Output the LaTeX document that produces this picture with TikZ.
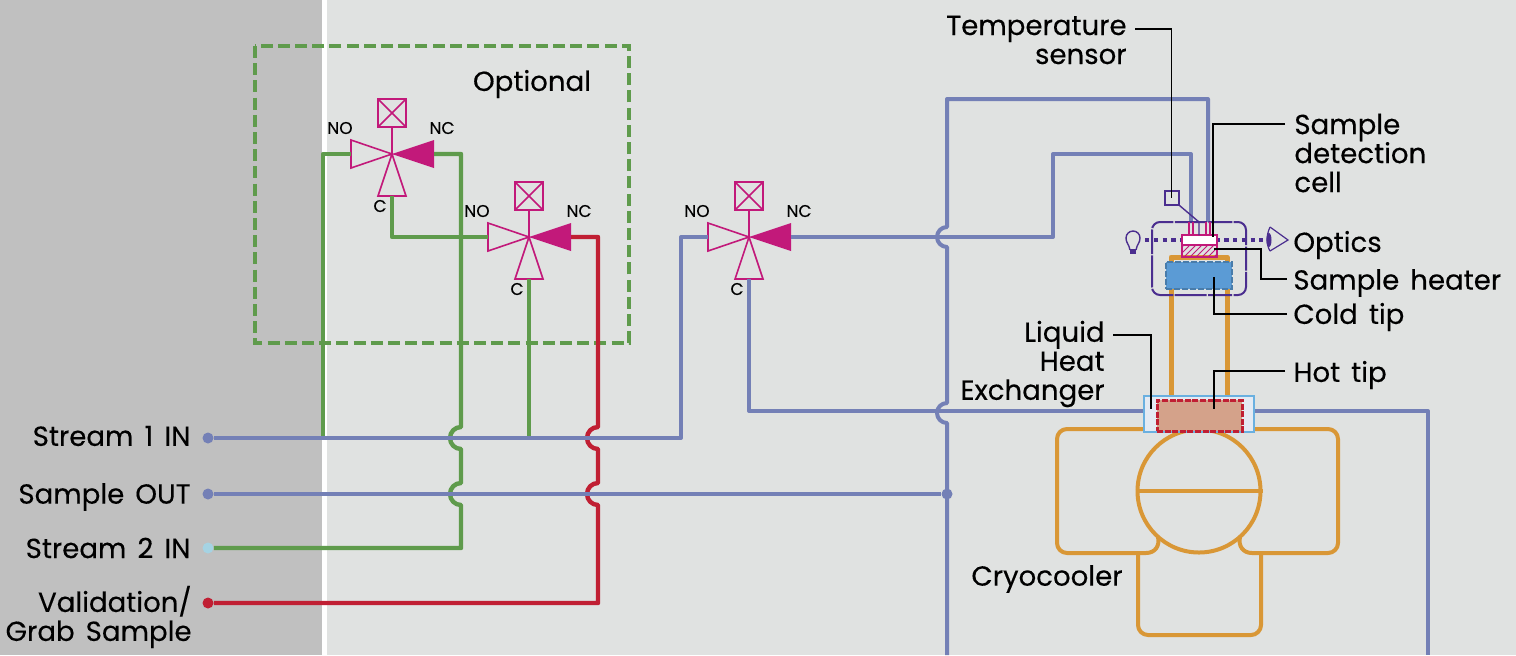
\documentclass[tikz,border=0pt]{standalone}
\usepackage{fontspec}
\setmainfont[WordSpace=1.5,FakeBold=0.25]{Poppins}
\usetikzlibrary{patterns}
\definecolor{panelgray}{HTML}{C0C0C0}
\definecolor{panelpale}{HTML}{E0E2E1}
\definecolor{lineblue}{HTML}{7480B6}
\definecolor{linegreen}{HTML}{5F9B4C}
\definecolor{linered}{HTML}{C01F33}
\definecolor{linecool}{HTML}{D99736}
\definecolor{valvepink}{HTML}{C2197A}
\definecolor{optviolet}{HTML}{4B2E8F}
\definecolor{dotpale}{HTML}{A5D3E3}
\definecolor{tipblue}{HTML}{5B9BD5}
\definecolor{tiphot}{HTML}{D4A28A}
\definecolor{hxfill}{HTML}{E4EAF3}
\definecolor{hxedge}{HTML}{6AB0E0}
\tikzset{
  pipeblue/.style={draw=lineblue,line width=2pt,line join=round},
  pipegreen/.style={draw=linegreen,line width=2.2pt,line join=round},
  pipered/.style={draw=linered,line width=2.2pt,line join=round},
  pipecool/.style={draw=linecool,line width=2pt,line join=round},
  leader/.style={draw=black,line width=.55pt},
  label/.style={font=\fontsize{13.8}{14.5}\selectfont,inner sep=0pt},
  portlabel/.style={font=\fontsize{8.5}{9}\selectfont,inner sep=0pt},
  enddot/.style={circle,fill=#1,minimum size=5.5pt,inner sep=0pt},
  valve/.pic={
    \draw[valvepink,line width=.8pt,line join=miter]
      (0,0)--(-41,-14)--(-41,14)--cycle
      (0,0)--(-14,42)--(14,42)--cycle
      (0,0)--(0,-27)
      (-14,-27) rectangle (14,-55)
      (-14,-27)--(14,-55) (-14,-55)--(14,-27);
    \fill[valvepink] (0,0)--(42,-14)--(42,14)--cycle;
    \node[portlabel] at (-52,-26) {NO};
    \node[portlabel] at (50,-26) {NC};
    \node[portlabel] at (-12,52) {C};
    \coordinate (-no) at (-41,0);
    \coordinate (-nc) at (42,0);
    \coordinate (-c) at (0,42);
  }
}
\begin{document}
\begin{tikzpicture}[x=.5pt,y=-.5pt]
\useasboundingbox (0,0) rectangle (1516,655);
\fill[panelpale] (0,0) rectangle (1516,655);
\fill[white] (322,0) rectangle (327,655);
\fill[panelgray] (0,0) rectangle (322,655);

% inlets
\node[enddot=lineblue] (s1) at (208,438) {};
\node[enddot=lineblue] (out) at (208,494) {};
\node[enddot=dotpale] (s2) at (208,548) {};
\node[enddot=linered] (val) at (208,603) {};
\node[enddot=lineblue] (tee) at (947,494) {};
\node[label,anchor=east] (ls1) at (191,436) {Stream 1 IN};
\node[label,anchor=east] (lout) at (191,497) {Sample OUT};
\node[label,anchor=east] (ls2) at (191,548) {Stream 2 IN};
\node[label,anchor=east,align=right] (lval) at (192,617) {Validation/\\Grab Sample};

% valves
\pic (v1) at (392,154) {valve};
\pic (v2) at (529,237) {valve};
\pic (v3) at (749,237) {valve};

\draw[draw=linegreen,line width=1.75pt,dash pattern=on 6pt off 2.6pt] (255,46) rectangle (629,343);
\node[label] (lopt) at (532,84) {Optional};

% exchanger and cell parts
\coordinate (hxl) at (1144,411);
\coordinate (hxr) at (1254,411);

% green
\draw[pipegreen] (v1-no)-|(323,438);
\draw[pipegreen] (v1-nc)-|(461,427) arc[start angle=270,end angle=90,radius=11]
  --(461,483) arc[start angle=270,end angle=90,radius=11]--(461,548)--(s2);
\draw[pipegreen] (v1-c)|-(v2-no);
\draw[pipegreen] (v2-c)--(529,438);
% red
\draw[pipered] (v2-nc)-|(598,427) arc[start angle=270,end angle=90,radius=11]
  --(598,483) arc[start angle=270,end angle=90,radius=11]--(598,603)--(val);
% blue
\draw[pipeblue] (s1)-|(681,237)--(v3-no);
\draw[pipeblue] (out)--(tee);
\draw[pipeblue] (v3-nc)-|(1053,154)-|(1191,222);
\draw[pipeblue] (v3-c)|-(hxl);
\draw[pipeblue] (hxr)-|(1428,655);
\draw[pipeblue] (947,655)--(947,423) arc[start angle=90,end angle=270,radius=10]
  --(947,247) arc[start angle=90,end angle=270,radius=10]--(947,99)-|(1208,222);

% cryocooler
\node[circle,draw=linecool,line width=2pt,minimum size=61.5pt,inner sep=0pt] (comp) at (1199,491) {};
\draw[pipecool] (comp.west)--(comp.east);
\draw[pipecool] (1144,429)--(1067,429) arc[start angle=270,end angle=180,radius=10]
  --(1057,543) arc[start angle=180,end angle=90,radius=10]--(1146,553)
  .. controls (1155,553) and (1160,546) .. (1158,537);
\draw[pipecool] (1254,429)--(1328,429) arc[start angle=270,end angle=360,radius=10]
  --(1338,543) arc[start angle=0,end angle=90,radius=10]--(1252,553)
  .. controls (1243,553) and (1238,546) .. (1240,537);
\draw[pipecool] (1138,553)--(1138,625) arc[start angle=180,end angle=90,radius=10]
  --(1251,635) arc[start angle=90,end angle=0,radius=10]--(1261,553);
\node[label] (lcryo) at (1047,579) {Cryocooler};

% cold finger
\draw[pipecool,line width=2.5pt] (1171,397)--(1171,257)--(1227,257)--(1227,397);
\node[draw=hxedge,fill=hxfill,line width=1pt,minimum width=55pt,minimum height=18pt,inner sep=0pt] (hx) at (1199,414) {};
\node[draw=linered,fill=tiphot,line width=1.5pt,dash pattern=on 3pt off .8pt,minimum width=42.5pt,minimum height=15.5pt,inner sep=0pt] (hot) at (1199.5,415.5) {};

% cell
\draw[optviolet,line width=1pt,rounded corners=4pt,dash pattern=on 12pt off .7pt on 16pt off .7pt] (1152,222) rectangle (1246,295);
\node[draw=tipblue!80!black,fill=tipblue,line width=1.2pt,dash pattern=on 3pt off 1pt,minimum width=33pt,minimum height=13.5pt,inner sep=0pt] (cold) at (1199,275.5) {};
\draw[optviolet,line width=2pt,dash pattern=on 2.2pt off 2.2pt] (1145,240)--(1263,240);
\draw[valvepink,line width=.8pt] (1189,222)--(1189,235) (1193,222)--(1193,235) (1206,222)--(1206,235) (1210,222)--(1210,235);
\node[draw=valvepink,fill=white,line width=.8pt,minimum width=17.5pt,minimum height=5pt,inner sep=0pt] (cell) at (1199.5,240) {};
\node[draw=valvepink,pattern=north east lines,pattern color=valvepink,line width=.8pt,minimum width=17.5pt,minimum height=6pt,inner sep=0pt] (heat) at (1199.5,251) {};
\node[draw=optviolet,line width=1pt,minimum size=7pt,inner sep=0pt] (sens) at (1171.5,197.5) {};
\draw[optviolet,line width=.7pt] (sens.south east)--(1199,222)--(1199,235);
% bulb and eye
\draw[optviolet,line width=.7pt] (1130,250) .. controls (1129,244) and (1126,243) .. (1126,238)
  arc[start angle=180,end angle=360,radius=7] .. controls (1140,243) and (1137,244) .. (1136,250);
\fill[optviolet] (1130,249) rectangle (1136,254);
\draw[optviolet,line width=.6pt] (1270,227)--(1288,240)--(1270,251);
\draw[optviolet,line width=.6pt] (1270,227) .. controls (1266,236) and (1266,244) .. (1270,251);
\fill[optviolet] (1269,240) ellipse (2.5 and 7);

% labels
\node[label,anchor=east,align=right] (ltemp) at (1127,40) {Temperature\\sensor};
\node[label,anchor=west,align=left] (lcell) at (1294,153) {Sample\\detection\\cell};
\node[label,anchor=west] (lopti) at (1293,245) {Optics};
\node[label,anchor=west] (lheat) at (1293,283) {Sample heater};
\node[label,anchor=west] (lcold) at (1293,317) {Cold tip};
\node[label,anchor=west] (lhot) at (1293,375) {Hot tip};
\node[label,anchor=east,align=right] (lhx) at (1105,364) {Liquid\\Heat\\Exchanger};

% leaders
\coordinate (a1) at (1135,29);
\coordinate (a2) at (1285,124);
\coordinate (a3) at (1113,335);
\coordinate (a4) at (1287,279);
\coordinate (a5) at (1287,314);
\coordinate (a6) at (1285,371);
\coordinate (e2) at (1213,237);
\coordinate (e3) at (1214,249);
\coordinate (e4) at (1214,277);
\coordinate (e5) at (1214,409);
\coordinate (e6) at (1151,409);
\draw[leader] (a1)-|(sens.center);
\draw[leader] (a2)-|(e2);
\draw[leader] (e3)-|(1261,279)--(a4);
\draw[leader] (a5)-|(e4);
\draw[leader] (a6)-|(e5);
\draw[leader] (a3)-|(e6);
\end{tikzpicture}
\end{document}
